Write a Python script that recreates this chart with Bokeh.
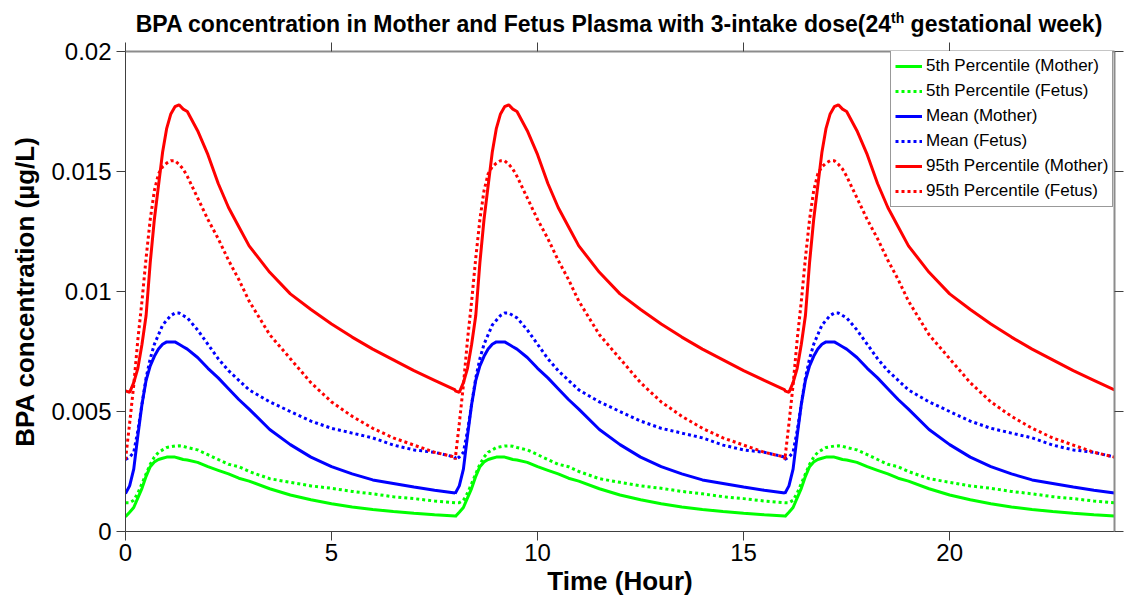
from bokeh.plotting import figure
from bokeh.models import Range1d, FixedTicker, LinearAxis, Legend, LegendItem, CustomJSTickFormatter, Div
from bokeh.layouts import column
from bokeh.embed import file_html
from bokeh.resources import INLINE

# ---------------- data (one 8-hour dosing cycle) ----------------
DOSE_TIMES = [0, 8, 16]
CYCLE_T = [0, 0.1, 0.2, 0.3, 0.4, 0.5, 0.6, 0.7, 0.8, 0.9, 1.0, 1.1, 1.2, 1.3, 1.4, 1.5,
           1.75, 2.0, 2.25, 2.5, 2.75, 3.0, 3.5, 4.0, 4.5, 5.0, 5.5, 6.0, 6.5, 7.0, 7.5, 8.0]

P5_MOTHER = [0.00062, 0.0008, 0.0010, 0.0014, 0.0018, 0.0023, 0.0027, 0.0029, 0.0030, 0.00305,
             0.0031, 0.0031, 0.0031, 0.00305, 0.0030, 0.00298, 0.00288, 0.0027, 0.00255, 0.0024,
             0.00222, 0.0021, 0.00178, 0.00152, 0.00132, 0.00116, 0.00102, 0.00092, 0.00083, 0.00076,
             0.0007, 0.00065]
P5_FETUS = [0.0012, 0.0012, 0.0013, 0.0016, 0.0020, 0.0024, 0.0028, 0.0031, 0.0033, 0.0034,
            0.0035, 0.00353, 0.00356, 0.00357, 0.00355, 0.0035, 0.0034, 0.0032, 0.0030, 0.0028,
            0.0027, 0.0025, 0.0022, 0.00205, 0.0019, 0.0018, 0.00167, 0.00157, 0.00145, 0.00137,
            0.00127, 0.0012]
MEAN_MOTHER = [0.00158, 0.0019, 0.0026, 0.0040, 0.0053, 0.0063, 0.0069, 0.0073, 0.0076, 0.0078,
               0.0079, 0.0079, 0.0079, 0.0078, 0.0077, 0.0076, 0.00725, 0.0068, 0.0064, 0.00595,
               0.0055, 0.0051, 0.00425, 0.00362, 0.0031, 0.0027, 0.0024, 0.00215, 0.0020, 0.00185,
               0.00172, 0.0016]
MEAN_FETUS = [0.0030, 0.0031, 0.0033, 0.0042, 0.0053, 0.0064, 0.0072, 0.0078, 0.0082, 0.0086,
              0.0088, 0.0090, 0.0091, 0.0091, 0.0090, 0.0089, 0.0084, 0.0078, 0.0072, 0.0067,
              0.0063, 0.0059, 0.0054, 0.0050, 0.0046, 0.0043, 0.0041, 0.0039, 0.0036, 0.0034,
              0.0033, 0.0031]
P95_MOTHER = [0.00586, 0.0058, 0.0062, 0.0068, 0.0078, 0.0090, 0.0112, 0.0130, 0.0144, 0.0158,
              0.0168, 0.0174, 0.0177, 0.01778, 0.0176, 0.0175, 0.0167, 0.0157, 0.0145, 0.0135,
              0.0127, 0.0119, 0.0108, 0.0099, 0.00925, 0.00865, 0.0081, 0.0076, 0.00715, 0.0067,
              0.0063, 0.0059]
P95_FETUS = [0.0030, 0.0045, 0.0061, 0.0080, 0.0096, 0.0114, 0.0130, 0.0142, 0.0149, 0.0152,
             0.01535, 0.01545, 0.01545, 0.0153, 0.0151, 0.0148, 0.0139, 0.0130, 0.0122, 0.0113,
             0.0105, 0.0096, 0.0082, 0.0072, 0.0062, 0.0054, 0.0048, 0.0043, 0.0039, 0.0036,
             0.0033, 0.0031]

X_TICKS = [0, 5, 10, 15, 20]
Y_TICKS = [0, 0.005, 0.01, 0.015, 0.02]
Y_TICK_LABELS = ["0", "0.005", "0.01", "0.015", "0.02"]

SERIES = [
    ("5th Percentile (Mother)", P5_MOTHER, "#00ff00", "solid"),
    ("5th Percentile (Fetus)", P5_FETUS, "#00ff00", "dotted"),
    ("Mean (Mother)", MEAN_MOTHER, "#0000ff", "solid"),
    ("Mean (Fetus)", MEAN_FETUS, "#0000ff", "dotted"),
    ("95th Percentile (Mother)", P95_MOTHER, "#ff0000", "solid"),
    ("95th Percentile (Fetus)", P95_FETUS, "#ff0000", "dotted"),
]

TITLE_MAIN = "BPA concentration in Mother and Fetus Plasma with 3-intake dose(24"
TITLE_SUP = "th"
TITLE_END = " gestational week)"


def full_series(values):
    xs, ys = [], []
    for d in DOSE_TIMES:
        for t, v in zip(CYCLE_T, values):
            xs.append(d + t)
            ys.append(v)
    return xs, ys


FONT = "Liberation Sans"
W = 1139
DIV_H = 36

title_html = (
    f'<div style="width:{W}px;box-sizing:border-box;padding-left:99px;padding-top:14px;'
    f'text-align:center;font-family:\'{FONT}\';font-weight:bold;font-size:23px;'
    f'line-height:20px;color:black;white-space:nowrap;">'
    f'{TITLE_MAIN}<sup style="font-size:14px;line-height:0;vertical-align:9px;">{TITLE_SUP}</sup>'
    f'{TITLE_END}</div>'
)
title_div = Div(text=title_html, width=W, height=DIV_H, margin=(0, 0, 0, 0))

p = figure(width=W, height=603 - DIV_H, output_backend="svg", toolbar_location=None,
           x_range=Range1d(0, 24), y_range=Range1d(0, 0.02),
           min_border_left=125, min_border_right=25, min_border_top=15, min_border_bottom=72,
           margin=(0, 0, 0, 0))
p.background_fill_color = "white"
p.border_fill_color = "white"
p.outline_line_color = None
p.xgrid.visible = False
p.ygrid.visible = False

items = []
for name, vals, color, style in SERIES:
    xs, ys = full_series(vals)
    if style == "solid":
        r = p.line(xs, ys, line_color=color, line_width=3)
    else:
        r = p.line(xs, ys, line_color=color, line_width=3, line_dash="3 3")
    items.append(LegendItem(label=name, renderers=[r]))

# main axes
for ax in (p.xaxis[0], p.yaxis[0]):
    ax.axis_line_color = "#404040"
    ax.major_tick_line_color = "#404040"
    ax.major_tick_out = 9
    ax.major_tick_in = 0
    ax.minor_tick_line_color = None
    ax.major_label_text_font = FONT
    ax.major_label_text_font_size = "24px"
    ax.major_label_text_color = "black"
    ax.axis_label_text_font = FONT
    ax.axis_label_text_font_style = "bold"
    ax.axis_label_text_font_size = "26px"
    ax.axis_label_text_color = "black"

p.xaxis.ticker = FixedTicker(ticks=X_TICKS)
p.yaxis.ticker = FixedTicker(ticks=Y_TICKS)
p.yaxis.major_label_overrides = {t: s for t, s in zip(Y_TICKS, Y_TICK_LABELS)}
p.xaxis.axis_label = "Time (Hour)"
p.yaxis.axis_label = "BPA concentration (µg/L)"
p.xaxis.major_label_standoff = 3
p.xaxis.axis_label_standoff = 2
p.yaxis.major_label_standoff = 5
p.yaxis.axis_label_standoff = 8

# box axes (top / right)
top = LinearAxis(ticker=FixedTicker(ticks=X_TICKS),
                 formatter=CustomJSTickFormatter(code="return ''"))
right = LinearAxis(ticker=FixedTicker(ticks=Y_TICKS),
                   formatter=CustomJSTickFormatter(code="return ''"))
for ax in (top, right):
    ax.axis_line_color = "#8c8c8c"
    ax.axis_line_width = 2
    ax.major_tick_line_color = "#404040"
    ax.major_tick_out = 9
    ax.major_tick_in = 0
    ax.minor_tick_line_color = None
    ax.major_label_text_font_size = "1px"
    ax.major_label_standoff = 0
p.add_layout(top, "above")
p.add_layout(right, "right")

# legend (kept inside the frame)
legend = Legend(items=items, location=(765, 324), margin=0, padding=4,
                label_text_font=FONT, label_text_font_size="17px", label_text_color="black",
                label_height=22, glyph_height=22, glyph_width=27, label_standoff=4, spacing=3,
                border_line_color="#333333", border_line_width=1,
                background_fill_color="white", background_fill_alpha=1.0)
p.add_layout(legend, "center")

layout = column(title_div, p, spacing=0, margin=(0, 0, 0, 0))
open("out.html", "w").write(file_html(layout, INLINE))
